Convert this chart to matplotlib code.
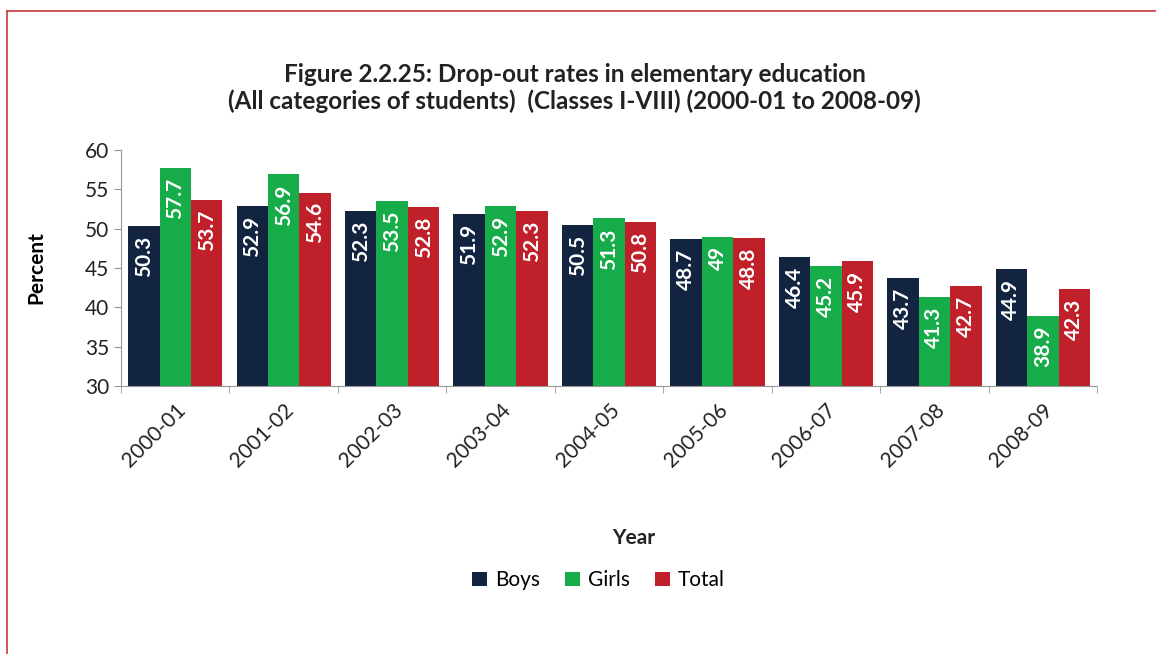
import numpy as np
import matplotlib.pyplot as plt
from matplotlib.lines import Line2D

years = ['2000-01', '2001-02', '2002-03', '2003-04', '2004-05',
         '2005-06', '2006-07', '2007-08', '2008-09']
boys = [50.3, 52.9, 52.3, 51.9, 50.5, 48.7, 46.4, 43.7, 44.9]
girls = [57.7, 56.9, 53.5, 52.9, 51.3, 49, 45.2, 41.3, 38.9]
total = [53.7, 54.6, 52.8, 52.3, 50.8, 48.8, 45.9, 42.7, 42.3]

plt.rcParams['font.family'] = ['Lato', 'DejaVu Sans']

fig = plt.figure(figsize=(11.56, 6.54), dpi=100)
ax = fig.add_axes([0.1047, 0.4098, 0.8443, 0.3608])

x = np.arange(len(years))
w = 0.29
series = [('Boys', boys, '#12243f'), ('Girls', girls, '#17ac4a'), ('Total', total, '#c0202a')]
for i, (name, vals, col) in enumerate(series):
    bars = ax.bar(x + (i - 1) * w, vals, w, bottom=0, color=col, label=name)
    for b, v in zip(bars, vals):
        ax.annotate('{:g}'.format(v), (b.get_x() + b.get_width() / 2, v),
                    xytext=(0, -7), textcoords='offset points',
                    ha='center', va='top', rotation=90, color='white',
                    fontsize=15, fontweight='bold')

ax.set_ylim(30, 60)
ax.set_yticks(range(30, 61, 5))
ax.set_xlim(-0.5, len(years) - 0.5)
ax.set_xticks(x)
ax.set_xticklabels(years, rotation=45, ha='right', rotation_mode='anchor', fontsize=15, color='#222222')
ax.set_xticks(np.arange(-0.5, len(years)), minor=True)
ax.tick_params(axis='x', which='major', length=0, pad=10)
ax.tick_params(axis='x', which='minor', length=5, color='#999999')
ax.tick_params(axis='y', length=5, color='#999999', labelsize=15, labelcolor='#222222')
for s in ['top', 'right']:
    ax.spines[s].set_visible(False)
for s in ['left', 'bottom']:
    ax.spines[s].set_color('#999999')

ax.set_ylabel('Percent', fontsize=15, fontweight='bold', labelpad=28)
fig.text(0.548, 0.178, 'Year', ha='center', va='center', fontsize=15, fontweight='bold', color='#222222')
fig.text(0.497, 0.866, 'Figure 2.2.25: Drop-out rates in elementary education\n'
         '(All categories of students)  (Classes I-VIII) (2000-01 to 2008-09)',
         ha='center', va='center', fontsize=17.5, fontweight='bold', color='#222222',
         linespacing=1.18)
fig.legend(loc='center', bbox_to_anchor=(0.518, 0.113), ncol=3, frameon=False,
           fontsize=15, handlelength=0.7, handleheight=0.7, columnspacing=1.2,
           handletextpad=0.4)

# red frame lines
fig.add_artist(Line2D([7 / 1156, 1], [1 - 11 / 654, 1 - 11 / 654], color='#c8383f', lw=1.2))
fig.add_artist(Line2D([7 / 1156, 7 / 1156], [0, 1 - 11 / 654], color='#c8383f', lw=1.2))

fig.savefig('out.png', dpi=100)
